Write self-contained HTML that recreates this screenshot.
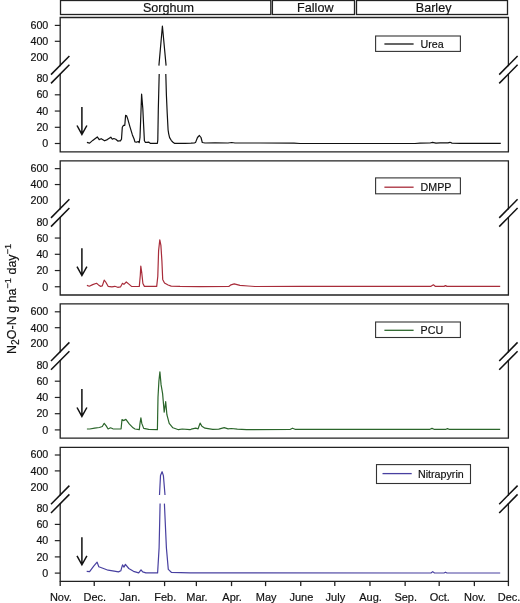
<!DOCTYPE html><html><head><meta charset="utf-8"><style>html,body{margin:0;padding:0;background:#fff;}svg{display:block;}text{font-family:"Liberation Sans",sans-serif;fill:#111;stroke:#111;stroke-width:0.18px;filter:grayscale(1);}</style></head><body>
<svg width="520" height="603" viewBox="0 0 520 603">
<rect x="60.5" y="0.5" width="210.30" height="14.00" fill="none" stroke="#222" stroke-width="1.3"/>
<text x="168.45" y="11.9" font-size="12.6" text-anchor="middle">Sorghum</text>
<rect x="272.4" y="0.5" width="82.10" height="14.00" fill="none" stroke="#222" stroke-width="1.3"/>
<text x="315.30" y="11.9" font-size="12.6" text-anchor="middle">Fallow</text>
<rect x="356.5" y="0.5" width="151.00" height="14.00" fill="none" stroke="#222" stroke-width="1.3"/>
<text x="433.60" y="11.9" font-size="12.6" text-anchor="middle">Barley</text>
<text transform="translate(15.8,298.9) rotate(-90)" font-size="12.5" text-anchor="middle">N<tspan font-size="10.2" dy="3.2">2</tspan><tspan dy="-3.2">O-N g ha</tspan><tspan font-size="9.2" dy="-4.4">−1</tspan><tspan dy="4.4"> day</tspan><tspan font-size="9.2" dy="-4.4">−1</tspan></text>
<path d="M60.2,65.50 V17.50 H508.4 V65.50 M60.2,74.30 V151.90 H508.4 V74.30" fill="none" stroke="#222" stroke-width="1.3" stroke-linecap="square"/>
<line x1="51.00" y1="74.60" x2="69.40" y2="56.00" stroke="#111" stroke-width="1.5"/>
<line x1="51.00" y1="83.40" x2="69.40" y2="64.80" stroke="#111" stroke-width="1.5"/>
<line x1="499.20" y1="74.60" x2="517.60" y2="56.00" stroke="#111" stroke-width="1.5"/>
<line x1="499.20" y1="83.40" x2="517.60" y2="64.80" stroke="#111" stroke-width="1.5"/>
<line x1="54.8" y1="25.40" x2="60.2" y2="25.40" stroke="#222" stroke-width="1.2"/>
<text x="48.3" y="28.53" font-size="10.7" text-anchor="end">600</text>
<line x1="54.8" y1="41.30" x2="60.2" y2="41.30" stroke="#222" stroke-width="1.2"/>
<text x="48.3" y="45.23" font-size="10.7" text-anchor="end">400</text>
<text x="48.3" y="60.98" font-size="10.7" text-anchor="end">200</text>
<text x="48.3" y="82.28" font-size="10.7" text-anchor="end">80</text>
<line x1="54.8" y1="94.80" x2="60.2" y2="94.80" stroke="#222" stroke-width="1.2"/>
<text x="48.3" y="98.33" font-size="10.7" text-anchor="end">60</text>
<line x1="54.8" y1="111.05" x2="60.2" y2="111.05" stroke="#222" stroke-width="1.2"/>
<text x="48.3" y="114.63" font-size="10.7" text-anchor="end">40</text>
<line x1="54.8" y1="127.30" x2="60.2" y2="127.30" stroke="#222" stroke-width="1.2"/>
<text x="48.3" y="130.98" font-size="10.7" text-anchor="end">20</text>
<line x1="54.8" y1="143.50" x2="60.2" y2="143.50" stroke="#222" stroke-width="1.2"/>
<text x="48.3" y="147.48" font-size="10.7" text-anchor="end">0</text>
<path d="M81.9,107.00 V133.60 M77,125.50 L81.9,134.40 L86.9,125.50" fill="none" stroke="#111" stroke-width="1.5"/>
<rect x="375.6" y="36.00" width="84.80" height="15.40" fill="#fff" stroke="#333" stroke-width="1.1"/>
<line x1="384.4" y1="44.00" x2="413.60" y2="44.00" stroke="#111111" stroke-width="1.3"/>
<text x="420.6" y="48.10" font-size="10.7">Urea</text>
<path d="M86.9,142.3 L89.6,143.1 L92.7,140.4 L97.3,136.9 L99.2,139.6 L101.2,138.7 L104.6,140.8 L107.3,139.6 L110.8,137.2 L112.3,139.2 L113.8,138.5 L115.8,139.2 L118.1,141.2 L119.1,140.8 L120.4,140.8 L121.5,139.2 L122.3,127.3 L123.5,125.4 L124.8,125.3 L125.6,115.4 L126.6,115.8 L127.8,119.1 L129.9,126.6 L132.4,134.9 L134.1,139.0 L134.9,141.9 L136.6,142.2 L138.2,141.5 L139.2,142.7 L140.0,137.3 L141.1,108.3 L141.6,94.0 L142.8,108.3 L143.6,124.9 L144.4,140.7 L145.3,142.3 L147.0,142.4 L148.6,142.1 L150.2,143.3 L157.4,143.3 L157.8,140.0 L158.3,109.8 L159.2,74.1" fill="none" stroke="#111111" stroke-width="1.2" stroke-linejoin="round"/>
<path d="M158.9,65.6 L162.4,26.0 L166.1,65.6" fill="none" stroke="#111111" stroke-width="1.2" stroke-linejoin="round"/>
<path d="M165.8,74.1 L166.4,95.0 L167.2,113.0 L168.1,130.0 L168.7,133.8 L169.6,137.6 L171.2,140.3 L172.7,142.0 L174.4,143.3 L185.0,143.3 L191.0,143.2 L194.7,142.8 L195.6,142.4 L197.5,137.5 L199.4,135.5 L201.0,137.5 L202.3,142.5 L205.0,143.0 L215.0,142.9 L228.0,143.0 L231.7,142.5 L235.0,143.0 L260.0,143.0 L294.0,143.2 L300.0,143.5 L415.0,143.5 L420.0,143.1 L430.0,143.0 L432.5,142.4 L436.0,143.1 L440.0,142.9 L448.0,142.8 L450.0,142.3 L452.0,143.1 L460.0,143.3 L500.8,143.4" fill="none" stroke="#111111" stroke-width="1.2" stroke-linejoin="round"/>
<path d="M60.2,208.75 V160.90 H508.4 V208.75 M60.2,217.55 V295.00 H508.4 V217.55" fill="none" stroke="#222" stroke-width="1.3" stroke-linecap="square"/>
<line x1="51.00" y1="217.85" x2="69.40" y2="199.25" stroke="#111" stroke-width="1.5"/>
<line x1="51.00" y1="226.65" x2="69.40" y2="208.05" stroke="#111" stroke-width="1.5"/>
<line x1="499.20" y1="217.85" x2="517.60" y2="199.25" stroke="#111" stroke-width="1.5"/>
<line x1="499.20" y1="226.65" x2="517.60" y2="208.05" stroke="#111" stroke-width="1.5"/>
<line x1="54.8" y1="168.65" x2="60.2" y2="168.65" stroke="#222" stroke-width="1.2"/>
<text x="48.3" y="171.78" font-size="10.7" text-anchor="end">600</text>
<line x1="54.8" y1="184.55" x2="60.2" y2="184.55" stroke="#222" stroke-width="1.2"/>
<text x="48.3" y="188.48" font-size="10.7" text-anchor="end">400</text>
<text x="48.3" y="204.23" font-size="10.7" text-anchor="end">200</text>
<text x="48.3" y="225.53" font-size="10.7" text-anchor="end">80</text>
<line x1="54.8" y1="238.05" x2="60.2" y2="238.05" stroke="#222" stroke-width="1.2"/>
<text x="48.3" y="241.58" font-size="10.7" text-anchor="end">60</text>
<line x1="54.8" y1="254.30" x2="60.2" y2="254.30" stroke="#222" stroke-width="1.2"/>
<text x="48.3" y="257.88" font-size="10.7" text-anchor="end">40</text>
<line x1="54.8" y1="270.55" x2="60.2" y2="270.55" stroke="#222" stroke-width="1.2"/>
<text x="48.3" y="274.23" font-size="10.7" text-anchor="end">20</text>
<line x1="54.8" y1="286.75" x2="60.2" y2="286.75" stroke="#222" stroke-width="1.2"/>
<text x="48.3" y="290.73" font-size="10.7" text-anchor="end">0</text>
<path d="M81.9,248.20 V274.70 M77,266.60 L81.9,275.50 L86.9,266.60" fill="none" stroke="#111" stroke-width="1.5"/>
<rect x="375.6" y="177.90" width="84.80" height="15.90" fill="#fff" stroke="#333" stroke-width="1.1"/>
<line x1="384.4" y1="187.20" x2="413.60" y2="187.20" stroke="#a82c3a" stroke-width="1.3"/>
<text x="420.6" y="191.30" font-size="10.7">DMPP</text>
<path d="M86.9,285.4 L89.3,286.2 L92.7,284.6 L96.5,283.3 L98.5,284.9 L100.4,286.3 L102.3,285.9 L104.2,280.1 L105.7,282.0 L108.1,286.3 L111.9,286.8 L114.8,286.3 L117.7,287.3 L120.6,286.8 L122.5,283.3 L123.9,284.4 L126.3,282.0 L129.2,284.4 L131.5,286.4 L135.0,286.5 L139.3,286.4 L140.3,275.3 L140.8,266.0 L141.8,273.2 L142.9,283.5 L144.4,286.4 L156.7,286.4 L157.8,276.3 L158.6,250.6 L159.8,239.8 L160.9,245.4 L161.9,260.9 L162.7,279.4 L164.5,283.0 L168.1,285.0 L171.2,286.1 L180.0,286.4 L200.0,286.6 L228.8,286.4 L231.0,284.8 L234.2,283.9 L240.0,285.3 L248.0,286.0 L255.0,286.5 L300.0,286.4 L431.0,286.3 L433.4,284.8 L435.5,286.4 L444.0,286.4 L445.5,285.6 L447.0,286.4 L500.2,286.3" fill="none" stroke="#a82c3a" stroke-width="1.2" stroke-linejoin="round"/>
<path d="M60.2,351.90 V303.90 H508.4 V351.90 M60.2,360.70 V438.20 H508.4 V360.70" fill="none" stroke="#222" stroke-width="1.3" stroke-linecap="square"/>
<line x1="51.00" y1="361.00" x2="69.40" y2="342.40" stroke="#111" stroke-width="1.5"/>
<line x1="51.00" y1="369.80" x2="69.40" y2="351.20" stroke="#111" stroke-width="1.5"/>
<line x1="499.20" y1="361.00" x2="517.60" y2="342.40" stroke="#111" stroke-width="1.5"/>
<line x1="499.20" y1="369.80" x2="517.60" y2="351.20" stroke="#111" stroke-width="1.5"/>
<line x1="54.8" y1="311.80" x2="60.2" y2="311.80" stroke="#222" stroke-width="1.2"/>
<text x="48.3" y="314.93" font-size="10.7" text-anchor="end">600</text>
<line x1="54.8" y1="327.70" x2="60.2" y2="327.70" stroke="#222" stroke-width="1.2"/>
<text x="48.3" y="331.63" font-size="10.7" text-anchor="end">400</text>
<text x="48.3" y="347.38" font-size="10.7" text-anchor="end">200</text>
<text x="48.3" y="368.68" font-size="10.7" text-anchor="end">80</text>
<line x1="54.8" y1="381.20" x2="60.2" y2="381.20" stroke="#222" stroke-width="1.2"/>
<text x="48.3" y="384.73" font-size="10.7" text-anchor="end">60</text>
<line x1="54.8" y1="397.45" x2="60.2" y2="397.45" stroke="#222" stroke-width="1.2"/>
<text x="48.3" y="401.03" font-size="10.7" text-anchor="end">40</text>
<line x1="54.8" y1="413.70" x2="60.2" y2="413.70" stroke="#222" stroke-width="1.2"/>
<text x="48.3" y="417.38" font-size="10.7" text-anchor="end">20</text>
<line x1="54.8" y1="429.90" x2="60.2" y2="429.90" stroke="#222" stroke-width="1.2"/>
<text x="48.3" y="433.88" font-size="10.7" text-anchor="end">0</text>
<path d="M81.9,388.90 V415.60 M77,407.50 L81.9,416.40 L86.9,407.50" fill="none" stroke="#111" stroke-width="1.5"/>
<rect x="375.6" y="322.00" width="84.80" height="15.50" fill="#fff" stroke="#333" stroke-width="1.1"/>
<line x1="384.4" y1="330.30" x2="413.60" y2="330.30" stroke="#2b662b" stroke-width="1.3"/>
<text x="420.6" y="334.40" font-size="10.7">PCU</text>
<path d="M86.9,429.0 L89.8,429.0 L94.6,428.1 L99.4,427.5 L102.3,426.5 L104.2,423.3 L106.2,425.9 L108.1,429.0 L110.5,427.8 L112.9,428.8 L117.7,429.0 L121.1,428.8 L122.0,419.6 L123.5,420.6 L125.9,419.4 L129.2,423.9 L133.1,427.8 L135.0,429.0 L139.3,429.7 L140.0,423.4 L140.9,417.8 L141.8,423.4 L143.7,428.4 L148.7,429.4 L157.4,429.7 L158.0,397.3 L158.9,381.1 L159.9,371.8 L161.1,384.9 L162.6,393.6 L164.2,412.2 L165.7,401.7 L166.9,414.7 L169.2,423.4 L172.9,427.8 L178.5,429.7 L182.2,429.0 L190.0,429.7 L191.2,429.2 L195.8,428.2 L198.1,428.8 L200.1,423.1 L201.9,426.2 L205.0,428.2 L212.7,429.4 L218.8,429.2 L224.2,427.7 L228.1,428.8 L231.2,428.5 L237.3,429.2 L246.5,429.7 L290.0,429.5 L292.5,428.2 L295.0,429.3 L430.0,429.3 L432.0,428.4 L434.0,429.3 L446.0,429.3 L447.5,428.6 L449.0,429.3 L500.2,429.4" fill="none" stroke="#2b662b" stroke-width="1.2" stroke-linejoin="round"/>
<path d="M60.2,495.10 V447.40 H508.4 V495.10 M60.2,503.90 V581.30 H508.4 V503.90" fill="none" stroke="#222" stroke-width="1.3" stroke-linecap="square"/>
<line x1="51.00" y1="504.20" x2="69.40" y2="485.60" stroke="#111" stroke-width="1.5"/>
<line x1="51.00" y1="513.00" x2="69.40" y2="494.40" stroke="#111" stroke-width="1.5"/>
<line x1="499.20" y1="504.20" x2="517.60" y2="485.60" stroke="#111" stroke-width="1.5"/>
<line x1="499.20" y1="513.00" x2="517.60" y2="494.40" stroke="#111" stroke-width="1.5"/>
<line x1="54.8" y1="455.00" x2="60.2" y2="455.00" stroke="#222" stroke-width="1.2"/>
<text x="48.3" y="458.13" font-size="10.7" text-anchor="end">600</text>
<line x1="54.8" y1="470.90" x2="60.2" y2="470.90" stroke="#222" stroke-width="1.2"/>
<text x="48.3" y="474.83" font-size="10.7" text-anchor="end">400</text>
<text x="48.3" y="490.58" font-size="10.7" text-anchor="end">200</text>
<text x="48.3" y="511.88" font-size="10.7" text-anchor="end">80</text>
<line x1="54.8" y1="524.40" x2="60.2" y2="524.40" stroke="#222" stroke-width="1.2"/>
<text x="48.3" y="527.93" font-size="10.7" text-anchor="end">60</text>
<line x1="54.8" y1="540.65" x2="60.2" y2="540.65" stroke="#222" stroke-width="1.2"/>
<text x="48.3" y="544.23" font-size="10.7" text-anchor="end">40</text>
<line x1="54.8" y1="556.90" x2="60.2" y2="556.90" stroke="#222" stroke-width="1.2"/>
<text x="48.3" y="560.58" font-size="10.7" text-anchor="end">20</text>
<line x1="54.8" y1="573.10" x2="60.2" y2="573.10" stroke="#222" stroke-width="1.2"/>
<text x="48.3" y="577.08" font-size="10.7" text-anchor="end">0</text>
<path d="M81.9,537.20 V564.00 M77,555.90 L81.9,564.80 L86.9,555.90" fill="none" stroke="#111" stroke-width="1.5"/>
<rect x="376.5" y="464.60" width="94.00" height="18.90" fill="#fff" stroke="#333" stroke-width="1.1"/>
<line x1="382.5" y1="473.60" x2="411.70" y2="473.60" stroke="#4840a0" stroke-width="1.3"/>
<text x="418.0" y="477.70" font-size="10.7">Nitrapyrin</text>
<path d="M86.7,571.3 L89.6,571.7 L93.7,566.2 L97.1,562.1 L98.8,566.7 L103.5,568.5 L108.1,570.2 L112.7,570.8 L118.5,571.9 L120.8,570.8 L122.5,564.8 L124.0,567.1 L125.4,564.4 L128.8,568.5 L133.5,571.3 L138.7,572.8 L141.0,569.8 L142.7,571.9 L145.9,572.9 L157.6,572.9 L159.1,547.9 L160.1,503.6" fill="none" stroke="#4840a0" stroke-width="1.2" stroke-linejoin="round"/>
<path d="M159.5,495.0 L160.5,475.6 L162.1,471.7 L163.4,475.6 L165.0,495.0" fill="none" stroke="#4840a0" stroke-width="1.2" stroke-linejoin="round"/>
<path d="M164.4,503.6 L166.4,547.9 L168.3,569.4 L171.3,572.3 L190.0,572.9 L431.0,573.0 L432.7,571.6 L434.5,573.0 L444.0,573.0 L445.5,572.2 L447.0,573.0 L500.2,573.0" fill="none" stroke="#4840a0" stroke-width="1.2" stroke-linejoin="round"/>
<line x1="60.20" y1="581.30" x2="60.20" y2="586.10" stroke="#222" stroke-width="1.3"/>
<text x="60.80" y="600.6" font-size="11" text-anchor="middle">Nov.</text>
<line x1="94.24" y1="581.30" x2="94.24" y2="586.10" stroke="#222" stroke-width="1.3"/>
<text x="94.84" y="600.6" font-size="11" text-anchor="middle">Dec.</text>
<line x1="129.42" y1="581.30" x2="129.42" y2="586.10" stroke="#222" stroke-width="1.3"/>
<text x="130.02" y="600.6" font-size="11" text-anchor="middle">Jan.</text>
<line x1="164.59" y1="581.30" x2="164.59" y2="586.10" stroke="#222" stroke-width="1.3"/>
<text x="165.19" y="600.6" font-size="11" text-anchor="middle">Feb.</text>
<line x1="196.36" y1="581.30" x2="196.36" y2="586.10" stroke="#222" stroke-width="1.3"/>
<text x="196.96" y="600.6" font-size="11" text-anchor="middle">Mar.</text>
<line x1="231.54" y1="581.30" x2="231.54" y2="586.10" stroke="#222" stroke-width="1.3"/>
<text x="232.14" y="600.6" font-size="11" text-anchor="middle">Apr.</text>
<line x1="265.58" y1="581.30" x2="265.58" y2="586.10" stroke="#222" stroke-width="1.3"/>
<text x="266.18" y="600.6" font-size="11" text-anchor="middle">May</text>
<line x1="300.75" y1="581.30" x2="300.75" y2="586.10" stroke="#222" stroke-width="1.3"/>
<text x="301.35" y="600.6" font-size="11" text-anchor="middle">June</text>
<line x1="334.79" y1="581.30" x2="334.79" y2="586.10" stroke="#222" stroke-width="1.3"/>
<text x="335.39" y="600.6" font-size="11" text-anchor="middle">July</text>
<line x1="369.97" y1="581.30" x2="369.97" y2="586.10" stroke="#222" stroke-width="1.3"/>
<text x="370.57" y="600.6" font-size="11" text-anchor="middle">Aug.</text>
<line x1="405.14" y1="581.30" x2="405.14" y2="586.10" stroke="#222" stroke-width="1.3"/>
<text x="405.74" y="600.6" font-size="11" text-anchor="middle">Sep.</text>
<line x1="439.18" y1="581.30" x2="439.18" y2="586.10" stroke="#222" stroke-width="1.3"/>
<text x="439.78" y="600.6" font-size="11" text-anchor="middle">Oct.</text>
<line x1="474.36" y1="581.30" x2="474.36" y2="586.10" stroke="#222" stroke-width="1.3"/>
<text x="474.96" y="600.6" font-size="11" text-anchor="middle">Nov.</text>
<line x1="508.40" y1="581.30" x2="508.40" y2="586.10" stroke="#222" stroke-width="1.3"/>
<text x="509.00" y="600.6" font-size="11" text-anchor="middle">Dec.</text>
</svg></body></html>
